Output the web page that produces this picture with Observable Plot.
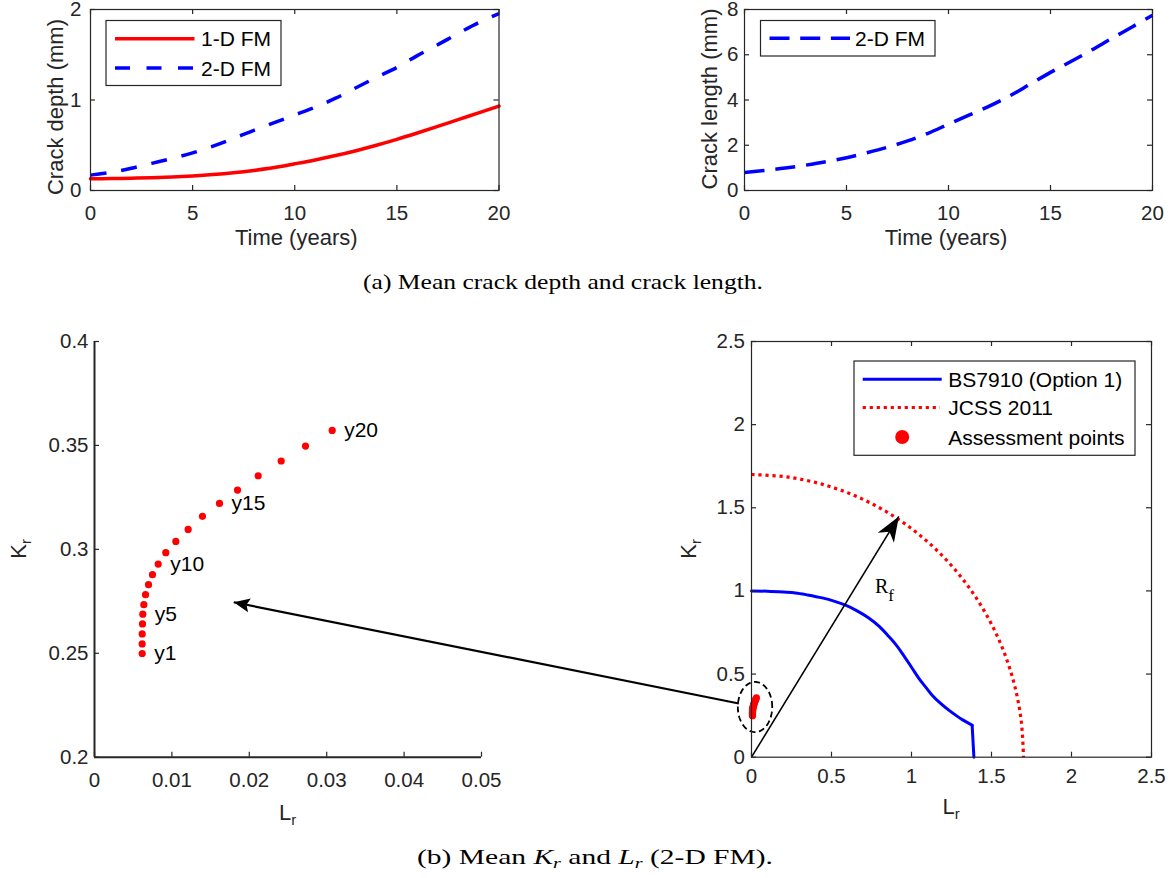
<!DOCTYPE html>
<html>
<head>
<meta charset="utf-8">
<script src="https://cdn.jsdelivr.net/npm/d3@7"></script>
<script src="https://cdn.jsdelivr.net/npm/@observablehq/plot@0.6"></script>
<style>
  body { margin: 0; background: #fff; }
  #fig { position: relative; width: 1174px; height: 878px; overflow: hidden; background: #fff; }
  #fig svg { max-width: none; }
  .cap { position: absolute; white-space: nowrap; transform-origin: 0 50%;
         font-family: "Liberation Serif", "Times New Roman", serif; font-size: 22px; line-height: 22px; color: #000; }
  .cap sub { font-size: 15px; vertical-align: -4px; line-height: 0; }
</style>
</head>
<body>
<div id="fig">
  <div class="cap" id="capA" data-left="363" data-width="400" style="top:271px;">(a) Mean crack depth and crack length.</div>
  <div class="cap" id="capB" data-left="417" data-width="356" style="top:846px;">(b) Mean <i>K<sub>r</sub></i> and <i>L<sub>r</sub></i> (2-D FM).</div>
</div>
<script>
// ---------------- data ----------------
const years = [0, 1, 2, 3, 4, 5, 6, 7, 8, 9, 10, 11, 12, 13, 14, 15, 16, 17, 18, 19, 20];
// mean crack depth (mm)
const depth1D = [0.130, 0.132, 0.136, 0.142, 0.150, 0.161, 0.176, 0.196, 0.222, 0.254, 0.295, 0.338, 0.386, 0.440, 0.500, 0.565, 0.635, 0.708, 0.783, 0.858, 0.933];
const depth2D = [0.170, 0.200, 0.245, 0.300, 0.355, 0.415, 0.490, 0.575, 0.665, 0.750, 0.835, 0.920, 1.020, 1.135, 1.250, 1.360, 1.490, 1.610, 1.735, 1.855, 1.955];
// mean crack length (mm)
const length2D = [0.80, 0.89, 0.99, 1.12, 1.27, 1.45, 1.67, 1.91, 2.19, 2.53, 2.93, 3.33, 3.73, 4.18, 4.70, 5.22, 5.70, 6.20, 6.72, 7.23, 7.75];

// assessment points, years 1..20
const pointYears = [1, 2, 3, 4, 5, 6, 7, 8, 9, 10, 11, 12, 13, 14, 15, 16, 17, 18, 19, 20];
const pointLr = [0.00616, 0.00616, 0.00616, 0.00620, 0.00624, 0.00637, 0.00659, 0.00698, 0.00749, 0.00823,
                 0.00921, 0.01051, 0.01210, 0.01395, 0.01615, 0.01848, 0.02115, 0.02412, 0.02726, 0.03071];
const pointKr = [0.2499, 0.2545, 0.2593, 0.2641, 0.2688, 0.2734, 0.2782, 0.2830, 0.2878, 0.2929,
                 0.2984, 0.3038, 0.3096, 0.3159, 0.3221, 0.3285, 0.3354, 0.3425, 0.3497, 0.3572];
const labelledYears = [1, 5, 10, 15, 20];

// BS7910 Option 1 failure assessment curve
const bsLr = [0, 0.10, 0.20, 0.275, 0.35, 0.442, 0.52, 0.5875, 0.66, 0.733, 0.80, 0.858, 0.90, 0.942, 1.004, 1.046, 1.09, 1.129, 1.18, 1.233, 1.28, 1.317, 1.35, 1.379];
const bsKr = [1.000, 0.998, 0.993, 0.988, 0.976, 0.958, 0.937, 0.914, 0.880, 0.837, 0.785, 0.726, 0.680, 0.625, 0.535, 0.474, 0.420, 0.373, 0.325, 0.283, 0.250, 0.226, 0.208, 0.192];
const bsCutLr = [1.379, 1.390];
const bsCutKr = [0.192, 0];

// JCSS 2011 failure curve
const jcssLr = [0, 0.2219, 0.44, 0.6506, 0.85, 1.0349, 1.2021, 1.3487, 1.4722, 1.5706, 1.6421, 1.6855, 1.70];
const jcssKr = [1.70, 1.6855, 1.6421, 1.5706, 1.4722, 1.3487, 1.2021, 1.0349, 0.85, 0.6506, 0.44, 0.2219, 0];

// annotations on the assessment diagram
const rfArrow = {x1: 0, y1: 0, x2: 0.921, y2: 1.448};
const zoomArrow = {x1: -0.079, y1: 0.323, x2: -3.236, y2: 0.932};
const zoomRing = {cx: 0.022, cy: 0.302, rx: 0.1075, ry: 0.151};
const rfLabelAt = {x: 0.775, y: 0.985};

// tick values
const timeTicks = [0, 5, 10, 15, 20];
const depthTicks = [0, 1, 2];
const lengthTicks = [0, 2, 4, 6, 8];
const lrZoomTicks = [0, 0.01, 0.02, 0.03, 0.04, 0.05];
const krZoomTicks = [0.2, 0.25, 0.3, 0.35, 0.4];
const fadTicks = [0, 0.5, 1, 1.5, 2, 2.5];

// ---------------- helpers ----------------
const INK = "#262626";
const RED = "#ff0000";
const BLUE = "#0000ff";
const SANS = '"Liberation Sans", Arial, Helvetica, sans-serif';
const SERIF = '"Liberation Serif", "Times New Roman", serif';
const TICK_LEN = 5;
const TICK_FS = 20.5;
const LABEL_FS = 22;
const fig = document.getElementById("fig");

const svgStyle = {background: "transparent", color: INK, fontFamily: SANS, overflow: "visible"};

function inwardTicks(xt, yt, fw, fh, sides) {
  const m = [];
  if (sides.includes("b")) m.push(Plot.ruleX(xt, {stroke: INK, strokeWidth: 1.2, insetTop: fh - TICK_LEN}));
  if (sides.includes("t")) m.push(Plot.ruleX(xt, {stroke: INK, strokeWidth: 1.2, insetBottom: fh - TICK_LEN}));
  if (sides.includes("l")) m.push(Plot.ruleY(yt, {stroke: INK, strokeWidth: 1.2, insetRight: fw - TICK_LEN}));
  if (sides.includes("r")) m.push(Plot.ruleY(yt, {stroke: INK, strokeWidth: 1.2, insetLeft: fw - TICK_LEN}));
  return m;
}

function tickLabels(xt, yt, xPad, yPad) {
  return [
    Plot.axisX(xt, {tickSize: 0, tickPadding: xPad, fontSize: TICK_FS, label: null, tickFormat: d => String(d)}),
    Plot.axisY(yt, {tickSize: 0, tickPadding: yPad, fontSize: TICK_FS, label: null, tickFormat: d => String(d)})
  ];
}

// text with optional subscript parts, added straight into an svg
function addText(svg, {x, y, rotate = 0, anchor = "middle", parts, family = SANS, size = LABEL_FS, fill = INK}) {
  const t = d3.select(svg).append("text")
    .attr("transform", `translate(${x},${y}) rotate(${rotate})`)
    .attr("text-anchor", anchor)
    .attr("font-family", family)
    .attr("font-size", size)
    .attr("fill", fill);
  let shift = 0;
  for (const p of parts) {
    const ts = t.append("tspan").text(p.text);
    if (p.size) ts.attr("font-size", p.size);
    if (p.italic) ts.attr("font-style", "italic");
    const dy = (p.dy || 0) - shift;
    shift = p.dy || 0;
    if (dy) ts.attr("dy", dy);
  }
  return t;
}

function legendBox(svg, box, entries) {
  const g = d3.select(svg).append("g").attr("text-anchor", "start");
  g.append("rect").attr("x", box.x).attr("y", box.y).attr("width", box.w).attr("height", box.h)
    .attr("fill", "#fff").attr("stroke", INK).attr("stroke-width", 1.2);
  for (const e of entries) {
    if (e.kind === "dot") {
      g.append("circle").attr("cx", (e.x1 + e.x2) / 2).attr("cy", e.y).attr("r", e.r).attr("fill", e.color);
    } else {
      g.append("line").attr("x1", e.x1).attr("x2", e.x2).attr("y1", e.y).attr("y2", e.y)
        .attr("stroke", e.color).attr("stroke-width", e.width)
        .attr("stroke-dasharray", e.dash || null).attr("stroke-linecap", "butt");
    }
    g.append("text").attr("x", e.tx).attr("y", e.y).attr("dy", "0.36em").attr("text-anchor", "start")
      .attr("font-family", SANS).attr("font-size", 21).attr("fill", "#000").text(e.label);
  }
}

function place(svg, left, top) {
  svg.style.position = "absolute";
  svg.style.left = left + "px";
  svg.style.top = top + "px";
  fig.appendChild(svg);
  return svg;
}

// notched arrow head pointing "up" with its tip at the origin
function arrowHead(len, half, notch) {
  return {
    draw(ctx) {
      ctx.moveTo(0, 0);
      ctx.lineTo(-half, len);
      ctx.lineTo(0, len - notch);
      ctx.lineTo(half, len);
      ctx.closePath();
    }
  };
}

// ---------------- (a) crack depth ----------------
const growth = years.map((t, i) => ({t, d1: depth1D[i], d2: depth2D[i], c2: length2D[i]}));

{
  const W = 520, H = 260, ml = 90, mr = 21.5, mt = 9, mb = 70;
  const fw = W - ml - mr, fh = H - mt - mb;
  const svg = Plot.plot({
    width: W, height: H, marginLeft: ml, marginRight: mr, marginTop: mt, marginBottom: mb,
    style: svgStyle,
    x: {domain: [0, 20], axis: null},
    y: {domain: [0, 2], axis: null},
    marks: [
      Plot.line(growth, {x: "t", y: "d1", stroke: RED, strokeWidth: 3.5, curve: "catmull-rom"}),
      Plot.line(growth, {x: "t", y: "d2", stroke: BLUE, strokeWidth: 3.5, curve: "catmull-rom",
                         strokeDasharray: "16,15", strokeLinecap: "butt"}),
      Plot.frame({stroke: INK, strokeWidth: 1.2}),
      ...inwardTicks(timeTicks, depthTicks, fw, fh, "btlr"),
      ...tickLabels(timeTicks, depthTicks, 15, 9)
    ]
  });
  place(svg, 0, 0);
  addText(svg, {x: ml + fw / 2 + 2, y: 245, parts: [{text: "Time (years)"}]});
  addText(svg, {x: 63, y: 107, rotate: -90, parts: [{text: "Crack depth (mm)"}]});
  legendBox(svg, {x: 106, y: 20.5, w: 175, h: 65}, [
    {x1: 115, x2: 194.5, y: 38.7, color: RED, width: 3.5, tx: 201, label: "1-D FM"},
    {x1: 115, x2: 194.5, y: 68, color: BLUE, width: 3.5, dash: "15,16.5", tx: 201, label: "2-D FM"}
  ]);
}

// ---------------- (a) crack length ----------------
{
  const W = 534, H = 260, ml = 104, mr = 22, mt = 9, mb = 70;
  const fw = W - ml - mr, fh = H - mt - mb;
  const svg = Plot.plot({
    width: W, height: H, marginLeft: ml, marginRight: mr, marginTop: mt, marginBottom: mb,
    style: svgStyle,
    x: {domain: [0, 20], axis: null},
    y: {domain: [0, 8], axis: null},
    marks: [
      Plot.line(growth, {x: "t", y: "c2", stroke: BLUE, strokeWidth: 3.5, curve: "catmull-rom",
                         strokeDasharray: "20,11", strokeLinecap: "butt"}),
      Plot.frame({stroke: INK, strokeWidth: 1.2}),
      ...inwardTicks(timeTicks, lengthTicks, fw, fh, "btlr"),
      ...tickLabels(timeTicks, lengthTicks, 15, 6)
    ]
  });
  place(svg, 640, 0);
  addText(svg, {x: ml + fw / 2 - 2, y: 245, parts: [{text: "Time (years)"}]});
  addText(svg, {x: 77, y: 99, rotate: -90, parts: [{text: "Crack length (mm)"}]});
  legendBox(svg, {x: 120.5, y: 20.5, w: 174.5, h: 35.5}, [
    {x1: 129.5, x2: 210, y: 38.3, color: BLUE, width: 3.5, dash: "20,10.7", tx: 215, label: "2-D FM"}
  ]);
}

// ---------------- (b) assessment points close-up ----------------
const points = pointYears.map((y, i) => ({year: y, lr: pointLr[i], kr: pointKr[i], tag: "y" + y}));
const BOTTOM_TOP = 300;

{
  const W = 560, H = 540, ml = 94, mr = 79, mt = 41, mb = 83.3;
  const fw = W - ml - mr, fh = H - mt - mb;
  const svg = Plot.plot({
    width: W, height: H, marginLeft: ml, marginRight: mr, marginTop: mt, marginBottom: mb,
    style: svgStyle,
    x: {domain: [0, 0.05], axis: null},
    y: {domain: [0.2, 0.4], axis: null},
    marks: [
      Plot.ruleX([0], {stroke: INK, strokeWidth: 2}),
      Plot.ruleY([0.2], {stroke: INK, strokeWidth: 2}),
      ...inwardTicks(lrZoomTicks, krZoomTicks, fw, fh, "bl"),
      ...tickLabels(lrZoomTicks, krZoomTicks, 15, 6),
      Plot.dot(points, {x: "lr", y: "kr", r: 3.6, fill: RED, stroke: "none"}),
      Plot.text(points.filter(d => labelledYears.includes(d.year)),
        {x: "lr", y: "kr", text: "tag", textAnchor: "start", dx: 12, fontSize: 21, fill: "#000"})
    ]
  });
  place(svg, 0, BOTTOM_TOP);
  addText(svg, {x: 26, y: mt + fh / 2, rotate: -90,
    parts: [{text: "K"}, {text: "r", size: 15, dy: 5}]});
  addText(svg, {x: ml + fw / 2, y: 520, parts: [{text: "L"}, {text: "r", size: 15, dy: 5}]});
}

// ---------------- (b) failure assessment diagram ----------------
{
  const W = 1174, H = 540, ml = 751, mr = 23, mt = 41, mb = 83.3;
  const fw = W - ml - mr, fh = H - mt - mb;
  const kx = fw / 2.5, ky = fh / 2.5;
  const headAngle = a => Math.atan2((a.x2 - a.x1) * kx, (a.y2 - a.y1) * ky) * 180 / Math.PI;

  const bs = bsLr.map((x, i) => ({x, y: bsKr[i]}));
  const bsCut = bsCutLr.map((x, i) => ({x, y: bsCutKr[i]}));
  const jcss = jcssLr.map((x, i) => ({x, y: jcssKr[i]}));
  const ring = d3.range(0, 361, 4).map(a => ({
    x: zoomRing.cx + zoomRing.rx * Math.cos(a * Math.PI / 180),
    y: zoomRing.cy + zoomRing.ry * Math.sin(a * Math.PI / 180)
  }));

  const svg = Plot.plot({
    width: W, height: H, marginLeft: ml, marginRight: mr, marginTop: mt, marginBottom: mb,
    style: svgStyle,
    x: {domain: [0, 2.5], axis: null},
    y: {domain: [0, 2.5], axis: null},
    marks: [
      Plot.line(jcss, {x: "x", y: "y", stroke: RED, strokeWidth: 3.2, curve: "catmull-rom",
                       strokeDasharray: "3.2,3.8", strokeLinecap: "butt"}),
      Plot.line(bs, {x: "x", y: "y", stroke: BLUE, strokeWidth: 3, curve: "catmull-rom"}),
      Plot.line(bsCut, {x: "x", y: "y", stroke: BLUE, strokeWidth: 3}),
      Plot.link([rfArrow], {x1: "x1", y1: "y1", x2: "x2", y2: "y2", stroke: "#000", strokeWidth: 1.6}),
      Plot.dot([rfArrow], {x: "x2", y: "y2", symbol: arrowHead(25, 9.5, 7), r: 1, fill: "#000", stroke: "none",
                           rotate: headAngle(rfArrow)}),
      Plot.line(ring, {x: "x", y: "y", stroke: "#000", strokeWidth: 1.8, strokeDasharray: "6,3.5", strokeLinecap: "butt"}),
      Plot.link([zoomArrow], {x1: "x1", y1: "y1", x2: "x2", y2: "y2", stroke: "#000", strokeWidth: 2.2}),
      Plot.dot([zoomArrow], {x: "x2", y: "y2", symbol: arrowHead(16, 7, 3), r: 1, fill: "#000", stroke: "none",
                             rotate: headAngle(zoomArrow)}),
      Plot.dot(points, {x: "lr", y: "kr", r: 3.6, fill: RED, stroke: "none"}),
      Plot.frame({stroke: INK, strokeWidth: 1.2}),
      ...inwardTicks(fadTicks, fadTicks, fw, fh, "btlr"),
      ...tickLabels(fadTicks, fadTicks, 11.5, 6.5)
    ]
  });
  place(svg, 0, BOTTOM_TOP);
  addText(svg, {x: 696, y: mt + fh / 2, rotate: -90, parts: [{text: "K"}, {text: "r", size: 15, dy: 5}]});
  addText(svg, {x: ml + fw / 2, y: 514, parts: [{text: "L"}, {text: "r", size: 15, dy: 5}]});
  const sx = svg.scale("x"), sy = svg.scale("y");
  addText(svg, {x: sx.apply(rfLabelAt.x), y: sy.apply(rfLabelAt.y), anchor: "start", family: SERIF, size: 20, fill: "#000",
    parts: [{text: "R"}, {text: "f", size: 17, dy: 8}]});
  legendBox(svg, {x: 854, y: 61, w: 281, h: 94.3}, [
    {x1: 862.7, x2: 941.7, y: 79.3, color: BLUE, width: 3, tx: 948.3, label: "BS7910 (Option 1)"},
    {x1: 862.7, x2: 940, y: 107.5, color: RED, width: 3.2, dash: "3.2,3.8", tx: 948.3, label: "JCSS 2011"},
    {kind: "dot", x1: 862.7, x2: 941.7, y: 137, r: 7, color: RED, tx: 948.3, label: "Assessment points"}
  ]);
}

// captions: stretch each line to the width set for it
for (const cap of document.querySelectorAll(".cap")) {
  const w = cap.getBoundingClientRect().width;
  const k = (+cap.dataset.width) / w;
  cap.style.left = cap.dataset.left + "px";
  cap.style.transform = `scaleX(${k})`;
}
</script>
</body>
</html>
